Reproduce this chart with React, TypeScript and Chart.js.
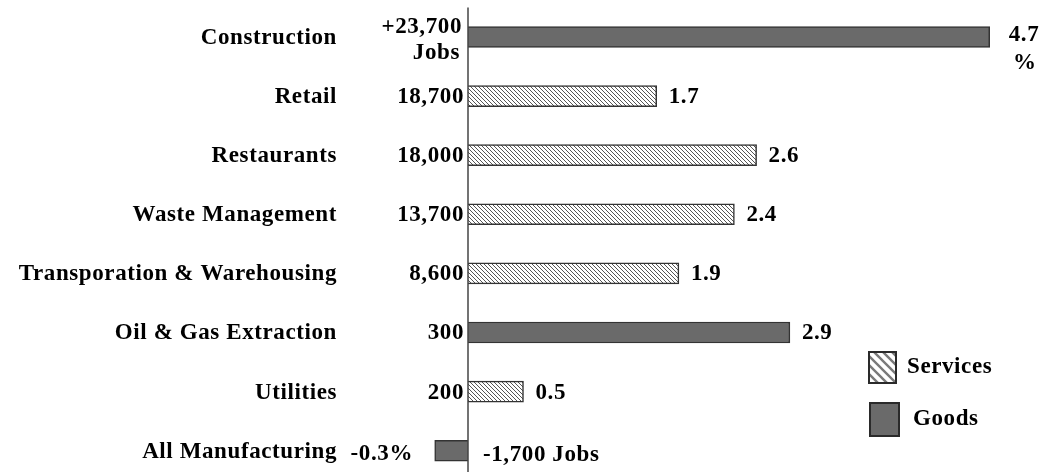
import React, { useEffect, useRef } from "react";
import { Chart, registerables } from "chart.js";

Chart.register(...registerables);

const categories = [
  "Construction",
  "Retail",
  "Restaurants",
  "Waste Management",
  "Transporation & Warehousing",
  "Oil & Gas Extraction",
  "Utilities",
  "All Manufacturing",
];
const pctChange = [4.7, 1.7, 2.6, 2.4, 1.9, 2.9, 0.5, -0.3];
const sectorType = ["Goods", "Services", "Services", "Services", "Services", "Goods", "Services", "Goods"];
const jobLabels = ["+23,700|Jobs", "18,700", "18,000", "13,700", "8,600", "300", "200", "-1,700 Jobs"];
const pctLabels = ["4.7|%", "1.7", "2.6", "2.4", "1.9", "2.9", "0.5", "-0.3%"];
const legendLabels = ["Services", "Goods"];

const FONT = 'bold 23px "Liberation Serif", "Times New Roman", serif';
const GOODS_FILL = "#6a6a6a";
const BORDER = "#333333";

function makeHatch(size: number, lineW: number, color: string) {
  const c = document.createElement("canvas");
  c.width = size;
  c.height = size;
  const g = c.getContext("2d")!;
  g.fillStyle = "#ffffff";
  g.fillRect(0, 0, size, size);
  g.strokeStyle = color;
  g.lineWidth = lineW;
  g.beginPath();
  g.moveTo(-1, -1);
  g.lineTo(size + 1, size + 1);
  g.moveTo(-1, size - 1);
  g.lineTo(1, size + 1);
  g.moveTo(size - 1, -1);
  g.lineTo(size + 1, 1);
  g.stroke();
  return g.createPattern(c, "repeat")!;
}

export default function App() {
  const ref = useRef<HTMLCanvasElement | null>(null);

  useEffect(() => {
    const canvas = ref.current!;
    const barHatch = makeHatch(4, 1.0, "#555555");
    const legendHatch = makeHatch(9, 2.4, "#7a7a7a");

    const servicesData = pctChange.map((v, i) => (sectorType[i] === "Services" ? v : null));
    const goodsData = pctChange.map((v, i) => (sectorType[i] === "Goods" ? v : null));

    const textPlugin = {
      id: "textPlugin",
      afterDatasetsDraw(chart: any) {
        const ctx = chart.ctx as CanvasRenderingContext2D;
        const xs = chart.scales.x;
        const ys = chart.scales.y;
        const x0 = xs.getPixelForValue(0);
        ctx.save();
        // zero axis line
        ctx.strokeStyle = "#444";
        ctx.lineWidth = 1.5;
        ctx.beginPath();
        ctx.moveTo(x0, chart.chartArea.top);
        ctx.lineTo(x0, chart.height);
        ctx.stroke();

        ctx.fillStyle = "#000";
        ctx.font = FONT;
        (ctx as any).letterSpacing = "0.6px";
        ctx.textBaseline = "middle";
        categories.forEach((cat, i) => {
          const y = ys.getPixelForValue(i);
          ctx.textAlign = "right";
          ctx.fillText(cat, 337, y + 1);
          const v = pctChange[i];
          const xEnd = xs.getPixelForValue(v);
          const jl = jobLabels[i];
          const pl = pctLabels[i];
          if (v >= 0) {
            const parts = jl.split("|");
            if (parts.length > 1) {
              ctx.textAlign = "right";
              ctx.fillText(parts[0], 462, y - 10);
              ctx.fillText(parts[1], 460, y + 16);
            } else {
              ctx.textAlign = "right";
              ctx.fillText(jl, 464, y + 1);
            }
            const pp = pl.split("|");
            ctx.textAlign = "left";
            ctx.fillText(pp[0], pp.length > 1 ? xEnd + 19 : xEnd + 12, pp.length > 1 ? y - 2 : y + 1);
            if (pp.length > 1) {
              ctx.textAlign = "center";
              ctx.fillText(pp[1], xEnd + 35, y + 26);
            }
          } else {
            ctx.textAlign = "right";
            ctx.fillText(pl, 413, y + 3);
            ctx.textAlign = "left";
            ctx.fillText(jl, 483, y + 4);
          }
        });

        // legend
        ctx.lineWidth = 2;
        ctx.strokeStyle = "#2a2a2a";
        ctx.fillStyle = legendHatch;
        ctx.fillRect(869, 352, 27, 31);
        ctx.strokeRect(869, 352, 27, 31);
        ctx.fillStyle = GOODS_FILL;
        ctx.fillRect(870, 403, 29, 33);
        ctx.strokeRect(870, 403, 29, 33);
        ctx.fillStyle = "#000";
        ctx.textAlign = "left";
        ctx.fillText(legendLabels[0], 907, 367);
        ctx.fillText(legendLabels[1], 913, 419);
        ctx.restore();
      },
    };

    const chart = new Chart(canvas, {
      type: "bar",
      data: {
        labels: categories,
        datasets: [
          {
            label: legendLabels[0],
            data: servicesData,
            backgroundColor: barHatch as any,
            borderColor: BORDER,
            borderWidth: 1.5,
            barThickness: 21,
            grouped: false,
            skipNull: true,
          } as any,
          {
            label: legendLabels[1],
            data: goodsData,
            backgroundColor: GOODS_FILL,
            borderColor: BORDER,
            borderWidth: 1.5,
            barThickness: 21,
            grouped: false,
            skipNull: true,
          } as any,
        ],
      },
      options: {
        indexAxis: "y",
        responsive: false,
        animation: false,
        layout: { padding: { left: 401.4, right: 21, top: 7.4, bottom: 9.7 } },
        plugins: { legend: { display: false }, tooltip: { enabled: false } },
        scales: {
          x: { display: false, min: -0.6, max: 5 },
          y: { display: false, offset: true },
        },
      },
      plugins: [textPlugin],
    });
    return () => chart.destroy();
  }, []);

  return (
    <div
      style={{
        position: "fixed",
        top: 0,
        left: 0,
        width: 1044,
        height: 472,
        overflow: "hidden",
        background: "#fff",
      }}
    >
      <canvas ref={ref} width={1044} height={490} style={{ display: "block" }} />
    </div>
  );
}
